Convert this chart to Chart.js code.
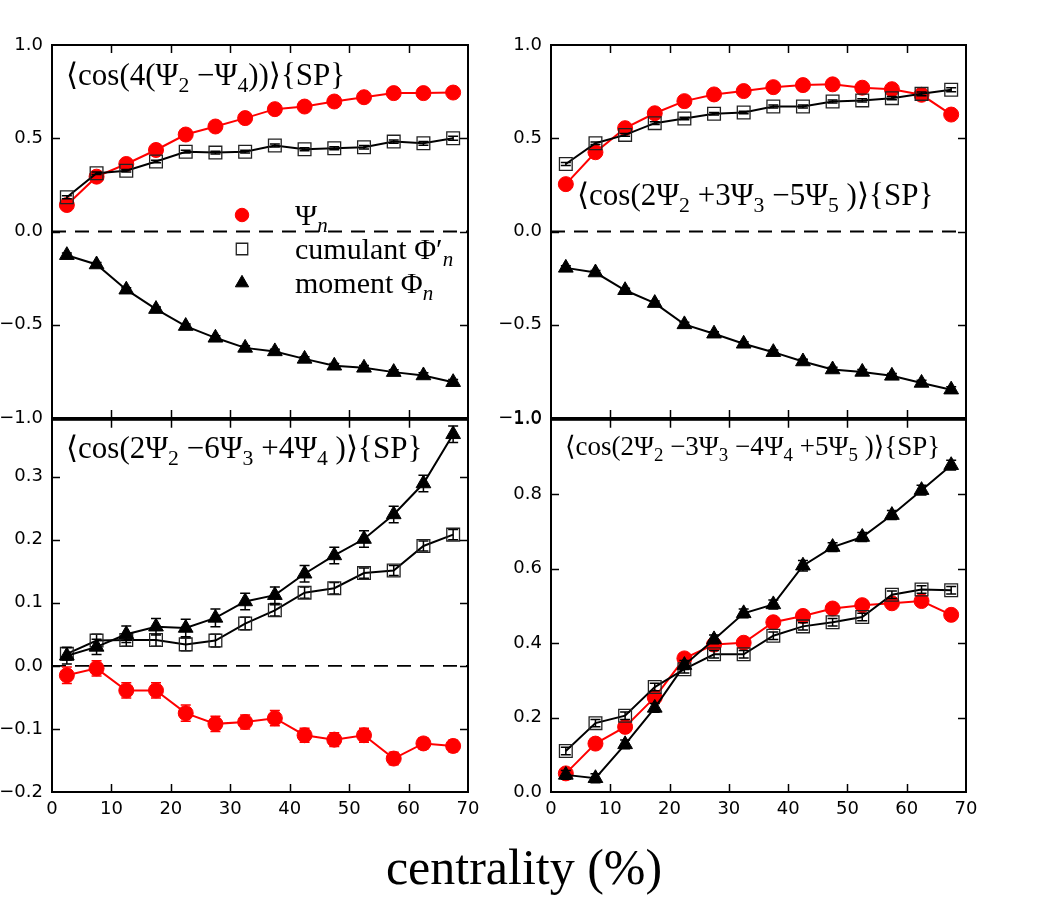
<!DOCTYPE html>
<html>
<head>
<meta charset="utf-8">
<script src="https://cdn.jsdelivr.net/npm/chart.js@4.4.0/dist/chart.umd.min.js"></script>
<style>
  body { margin: 0; background: #fff; }
  #wrap { position: relative; width: 1050px; height: 900px; background: #fff; overflow: hidden; }
  canvas { position: absolute; }
  #xtitle {
    position: absolute; left: 274px; top: 842px; width: 500px;
    text-align: center; font-family: "Liberation Serif", "DejaVu Serif", serif;
    font-size: 50px; line-height: 50px; color: #000;
  }
</style>
</head>
<body>
<div id="wrap">
  <canvas id="c1" width="500" height="420" style="left:0px;top:20px"></canvas>
  <canvas id="c2" width="500" height="420" style="left:499px;top:20px"></canvas>
  <canvas id="c3" width="500" height="470" style="left:0px;top:400px"></canvas>
  <canvas id="c4" width="500" height="470" style="left:499px;top:400px"></canvas>
  <div id="xtitle">centrality (%)</div>
</div>
<script>
// centrality bins (%)
const centrality = [2.5, 7.5, 12.5, 17.5, 22.5, 27.5, 32.5, 37.5, 42.5, 47.5, 52.5, 57.5, 62.5, 67.5];
const refX = [0, 70];
const refY = [0, 0];

// <cos(4(Psi2-Psi4))>
const p24_psi = [0.142, 0.294, 0.362, 0.437, 0.520, 0.563, 0.608, 0.656, 0.670, 0.697, 0.720, 0.742, 0.742, 0.745];
const p24_cum = [0.184, 0.312, 0.326, 0.375, 0.428, 0.423, 0.428, 0.461, 0.441, 0.446, 0.452, 0.482, 0.473, 0.500];
const p24_mom = [-0.127, -0.177, -0.312, -0.416, -0.507, -0.570, -0.624, -0.643, -0.683, -0.720, -0.731, -0.754, -0.772, -0.808];
const p24_psiErr = [0.004, 0.004, 0.004, 0.004, 0.004, 0.004, 0.004, 0.005, 0.005, 0.005, 0.005, 0.006, 0.006, 0.007];
const p24_cumErr = [0.008, 0.007, 0.007, 0.007, 0.007, 0.007, 0.007, 0.008, 0.008, 0.008, 0.009, 0.009, 0.010, 0.011];
const p24_momErr = [0.012, 0.011, 0.011, 0.011, 0.011, 0.011, 0.011, 0.012, 0.012, 0.012, 0.013, 0.013, 0.014, 0.015];

// <cos(2Psi2+3Psi3-5Psi5)>
const p235_psi = [0.254, 0.425, 0.554, 0.634, 0.699, 0.735, 0.753, 0.774, 0.785, 0.789, 0.771, 0.763, 0.733, 0.627];
const p235_cum = [0.362, 0.473, 0.518, 0.581, 0.606, 0.631, 0.638, 0.670, 0.670, 0.697, 0.703, 0.715, 0.738, 0.760];
const p235_mom = [-0.195, -0.220, -0.315, -0.384, -0.498, -0.548, -0.602, -0.647, -0.697, -0.740, -0.753, -0.774, -0.812, -0.848];
const p235_psiErr = [0.004, 0.004, 0.004, 0.004, 0.004, 0.004, 0.005, 0.005, 0.005, 0.005, 0.006, 0.006, 0.007, 0.008];
const p235_cumErr = [0.008, 0.007, 0.007, 0.007, 0.007, 0.007, 0.007, 0.008, 0.008, 0.008, 0.009, 0.009, 0.010, 0.011];
const p235_momErr = [0.012, 0.011, 0.011, 0.011, 0.011, 0.011, 0.011, 0.012, 0.012, 0.012, 0.013, 0.013, 0.014, 0.015];

// <cos(2Psi2-6Psi3+4Psi4)>
const p234_psi = [-0.015, -0.004, -0.039, -0.039, -0.075, -0.092, -0.089, -0.083, -0.110, -0.117, -0.110, -0.147, -0.123, -0.127];
const p234_cum = [0.019, 0.040, 0.041, 0.041, 0.034, 0.040, 0.067, 0.088, 0.116, 0.123, 0.147, 0.151, 0.190, 0.208];
const p234_mom = [0.016, 0.030, 0.050, 0.062, 0.060, 0.076, 0.102, 0.112, 0.146, 0.175, 0.201, 0.240, 0.289, 0.367];
const p234_psiErr = [0.013, 0.012, 0.012, 0.012, 0.013, 0.012, 0.011, 0.012, 0.011, 0.011, 0.011, 0.010, 0.009, 0.009];
const p234_cumErr = [0.010, 0.010, 0.010, 0.010, 0.010, 0.010, 0.010, 0.009, 0.009, 0.009, 0.008, 0.008, 0.008, 0.008];
const p234_momErr = [0.013, 0.012, 0.013, 0.013, 0.014, 0.014, 0.013, 0.013, 0.013, 0.013, 0.013, 0.013, 0.013, 0.013];

// <cos(2Psi2-3Psi3-4Psi4+5Psi5)>
const p2345_psi = [0.050, 0.130, 0.175, 0.254, 0.359, 0.396, 0.401, 0.456, 0.473, 0.493, 0.502, 0.507, 0.513, 0.476];
const p2345_cum = [0.110, 0.185, 0.205, 0.282, 0.330, 0.370, 0.370, 0.420, 0.445, 0.456, 0.470, 0.530, 0.544, 0.542];
const p2345_mom = [0.046, 0.037, 0.128, 0.226, 0.341, 0.410, 0.480, 0.504, 0.608, 0.658, 0.685, 0.744, 0.811, 0.878];
const p2345_psiErr = [0.010, 0.010, 0.010, 0.010, 0.010, 0.010, 0.010, 0.010, 0.010, 0.010, 0.010, 0.010, 0.010, 0.010];
const p2345_cumErr = [0.010, 0.010, 0.010, 0.010, 0.010, 0.010, 0.010, 0.010, 0.010, 0.010, 0.010, 0.010, 0.010, 0.010];
const p2345_momErr = [0.012, 0.012, 0.012, 0.012, 0.012, 0.012, 0.012, 0.012, 0.014, 0.012, 0.012, 0.012, 0.013, 0.013];

const panelLabels = [
  '⟨cos(4(Ψ_2 −Ψ_4))⟩{SP}',
  '⟨cos(2Ψ_2 +3Ψ_3 −5Ψ_5 )⟩{SP}',
  '⟨cos(2Ψ_2 −6Ψ_3 +4Ψ_4 )⟩{SP}',
  '⟨cos(2Ψ_2 −3Ψ_3 −4Ψ_4 +5Ψ_5 )⟩{SP}'
];
const legendLabels = ['Ψ_n', 'cumulant Φ′_n', 'moment Φ_n'];

const SERIF = '"Liberation Serif", "DejaVu Serif", serif';
const RED = '#ff0000';

function pairs(xs, ys) {
  return xs.map((x, i) => ({x: x, y: ys[i]}));
}

// text with single-char subscripts written as _c (letters come out italic)
function drawRich(ctx, str, x, y, size) {
  let cx = x;
  str.split(/(_.)/).forEach(part => {
    if (!part) return;
    const sub = part[0] === '_';
    const t = sub ? part.slice(1) : part;
    const fs = sub ? size * 0.7 : size;
    const ital = sub && /[a-z]/.test(t) ? 'italic ' : '';
    ctx.font = ital + fs + 'px ' + SERIF;
    ctx.fillText(t, cx, sub ? y + size * 0.24 : y);
    cx += ctx.measureText(t).width;
  });
}

const framePlugin = {
  id: 'frame',
  beforeDatasetDraw(chart, args) {
    const ds = chart.data.datasets[args.index];
    if (!ds.err) return;
    const ctx = chart.ctx, xs = chart.scales.x, ys = chart.scales.y;
    ctx.save();
    ctx.strokeStyle = ds.borderColor;
    ctx.lineWidth = 1.5;
    ds.data.forEach((p, i) => {
      const px = xs.getPixelForValue(p.x);
      const y1 = ys.getPixelForValue(p.y - ds.err[i]);
      const y2 = ys.getPixelForValue(p.y + ds.err[i]);
      ctx.beginPath();
      ctx.moveTo(px, y1); ctx.lineTo(px, y2);
      ctx.moveTo(px - 5, y1); ctx.lineTo(px + 5, y1);
      ctx.moveTo(px - 5, y2); ctx.lineTo(px + 5, y2);
      ctx.stroke();
    });
    ctx.restore();
  },
  afterDraw(chart, args, opts) {
    const ctx = chart.ctx, a = chart.chartArea;
    const xs = chart.scales.x, ys = chart.scales.y;
    ctx.save();
    ctx.strokeStyle = '#000';
    // inward ticks on all four sides
    ctx.lineWidth = 1.5;
    ctx.beginPath();
    xs.ticks.forEach(t => {
      const px = Math.round(xs.getPixelForValue(t.value)) + 0.5;
      if (px <= a.left + 1 || px >= a.right - 1) return;
      ctx.moveTo(px, a.bottom); ctx.lineTo(px, a.bottom - 8);
      ctx.moveTo(px, a.top); ctx.lineTo(px, a.top + 8);
    });
    ys.ticks.forEach(t => {
      const py = Math.round(ys.getPixelForValue(t.value)) + 0.5;
      if (py <= a.top + 1 || py >= a.bottom - 1) return;
      ctx.moveTo(a.left, py); ctx.lineTo(a.left + 8, py);
      ctx.moveTo(a.right, py); ctx.lineTo(a.right - 8, py);
    });
    ctx.stroke();
    ctx.lineWidth = 2;
    ctx.strokeRect(a.left, a.top, a.right - a.left, a.bottom - a.top);

    ctx.fillStyle = '#000';
    ctx.textBaseline = 'alphabetic';
    ctx.textAlign = 'left';
    drawRich(ctx, opts.label, opts.labelX, opts.labelY, opts.labelSize);

    if (opts.legend) {
      const sets = chart.data.datasets.filter(d => d.err);
      sets.forEach((d, i) => {
        const my = opts.legendY + i * 34;
        ctx.fillStyle = d.pointBackgroundColor;
        ctx.strokeStyle = d.pointBorderColor;
        ctx.lineWidth = d.pointBorderWidth;
        Chart.helpers.drawPoint(ctx, {
          pointStyle: d.pointStyle, radius: d.pointRadius * 0.9,
          rotation: 0, borderWidth: d.pointBorderWidth
        }, opts.legendX, my);
        ctx.fillStyle = '#000';
        drawRich(ctx, legendLabels[i], opts.legendX + 53, my + 10, 30);
      });
    }
    ctx.restore();
  }
};

function fmt(v) {
  if (Math.abs(v) < 1e-9) v = 0;
  return (v < 0 ? '−' : '') + Math.abs(v).toFixed(1);
}

function makePanel(id, p) {
  const datasets = [];
  if (p.zero) {
    datasets.push({
      data: pairs(refX, refY), borderColor: '#000', borderWidth: 1.8,
      borderDash: [14, 9], pointRadius: 0, order: 4
    });
  }
  datasets.push({
    data: pairs(centrality, p.psi), err: p.psiErr,
    borderColor: RED, borderWidth: 2,
    pointStyle: 'circle', pointRadius: 7.5,
    pointBackgroundColor: RED, pointBorderColor: RED, pointBorderWidth: 1,
    order: 3
  });
  datasets.push({
    data: pairs(centrality, p.cum), err: p.cumErr,
    borderColor: '#000', borderWidth: 2,
    pointStyle: 'rect', pointRadius: 9,
    pointBackgroundColor: 'rgba(0,0,0,0)', pointBorderColor: '#222', pointBorderWidth: 1.3,
    order: 2
  });
  datasets.push({
    data: pairs(centrality, p.mom), err: p.momErr,
    borderColor: '#000', borderWidth: 2,
    pointStyle: 'triangle', pointRadius: 8.5,
    pointBackgroundColor: '#000', pointBorderColor: '#000', pointBorderWidth: 1,
    order: 1
  });

  return new Chart(document.getElementById(id), {
    type: 'line',
    data: { datasets: datasets },
    options: {
      responsive: false,
      animation: false,
      events: [],
      devicePixelRatio: 1,
      layout: { autoPadding: false, padding: p.padding },
      plugins: {
        legend: { display: false },
        tooltip: { enabled: false },
        frame: {
          label: p.label, labelX: p.labelX, labelY: p.labelY, labelSize: p.labelSize,
          legend: !!p.legend, legendX: 242, legendY: 195
        }
      },
      scales: {
        x: {
          type: 'linear', min: 0, max: 70,
          grid: { display: false, drawTicks: false },
          border: { display: false },
          ticks: {
            display: p.xLabels, stepSize: 10, padding: 7, color: '#000',
            font: { family: 'DejaVu Sans', size: 18 },
            maxRotation: 0
          },
          afterFit: s => { s.height = p.xh; }
        },
        y: {
          min: p.ymin, max: p.ymax,
          grid: { display: false, drawTicks: false },
          border: { display: false },
          ticks: {
            stepSize: p.step, includeBounds: false, padding: 9, color: '#000',
            font: { family: 'DejaVu Sans', size: 18 },
            callback: v => fmt(v)
          },
          afterFit: s => { s.width = 52; }
        }
      }
    },
    plugins: [framePlugin]
  });
}

makePanel('c1', {
  psi: p24_psi, cum: p24_cum, mom: p24_mom,
  psiErr: p24_psiErr, cumErr: p24_cumErr, momErr: p24_momErr,
  zero: true, legend: true, xLabels: false, xh: 0,
  ymin: -1, ymax: 1, step: 0.5,
  padding: { top: 25, right: 32, bottom: 22, left: 0 },
  label: panelLabels[0], labelX: 66, labelY: 65, labelSize: 31
});
makePanel('c2', {
  psi: p235_psi, cum: p235_cum, mom: p235_mom,
  psiErr: p235_psiErr, cumErr: p235_cumErr, momErr: p235_momErr,
  zero: true, xLabels: false, xh: 0,
  ymin: -1, ymax: 1, step: 0.5,
  padding: { top: 25, right: 33, bottom: 22, left: 0 },
  label: panelLabels[1], labelX: 78, labelY: 185, labelSize: 31
});
makePanel('c3', {
  psi: p234_psi, cum: p234_cum, mom: p234_mom,
  psiErr: p234_psiErr, cumErr: p234_cumErr, momErr: p234_momErr,
  zero: true, xLabels: true, xh: 78,
  ymin: -0.2, ymax: 0.39, step: 0.1,
  padding: { top: 18, right: 32, bottom: 0, left: 0 },
  label: panelLabels[2], labelX: 66, labelY: 58, labelSize: 31
});
makePanel('c4', {
  psi: p2345_psi, cum: p2345_cum, mom: p2345_mom,
  psiErr: p2345_psiErr, cumErr: p2345_cumErr, momErr: p2345_momErr,
  zero: false, xLabels: true, xh: 78,
  ymin: 0, ymax: 1.0, step: 0.2,
  padding: { top: 18, right: 33, bottom: 0, left: 0 },
  label: panelLabels[3], labelX: 66, labelY: 55, labelSize: 27
});
</script>
</body>
</html>
